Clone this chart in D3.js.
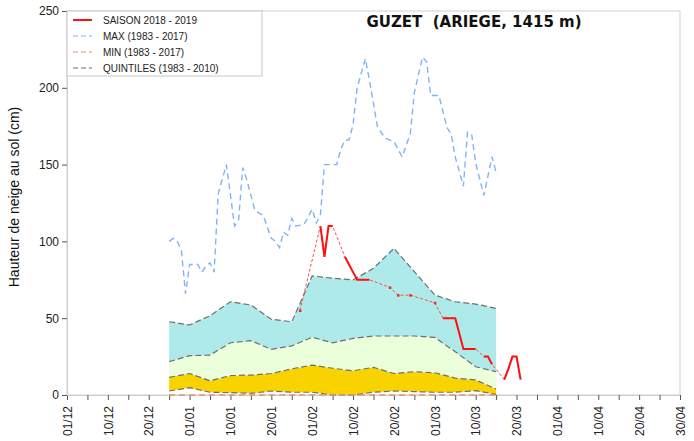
<!DOCTYPE html>
<html lang="fr">
<head>
<meta charset="utf-8">
<script src="https://d3js.org/d3.v7.min.js"></script>
<style>
  body { margin: 0; background: #fff; }
  svg { display: block; font-family: "Liberation Sans", Arial, sans-serif; }
</style>
</head>
<body>
<div id="chart"></div>
<script>
// axe des x : un cran = un jour "decade" (10 crans entre deux etiquettes)
var xLabels = ["01/12", "10/12", "20/12", "01/01", "10/01", "20/01", "01/02", "10/02",
  "20/02", "01/03", "10/03", "20/03", "01/04", "10/04", "20/04", "30/04"];
var yTicks = [0, 50, 100, 150, 200, 250];

// quintiles (1983 - 2010), un point tous les 5 crans
var quintDays = [25, 30, 35, 40, 45, 50, 55, 60, 65, 70, 75, 80, 85, 90, 95, 100, 105];
var q1 = [2.6, 4.8, 1.8, 1.5, 1.1, 2.6, 1.8, 1.8, 0, 0, 1.8, 2.6, 2.2, 1.8, 1.8, 2.8, 0.4];
var q2 = [11.5, 14, 9.3, 12.6, 13, 14, 17, 19.5, 17.4, 15.8, 18, 14, 15.2, 14.5, 11, 9.8, 3.9];
var q3 = [21.7, 25.6, 26, 34, 35.4, 29.7, 32, 37.6, 34, 36.9, 38.4, 38.4, 38.4, 37.5, 28.2, 18.4, 15.2];
var q4 = [47.7, 45.6, 51.6, 60.7, 58.6, 49.3, 47.7, 77.5, 76, 74.9, 82.5, 95.5, 80.3, 65.1, 60.7, 59.2, 56.4];

// min (1983 - 2017)
var minVals = [0, 0, 0, 0, 0, 0, 0, 0, 0, 0, 0, 0, 0, 0, 0, 0, 0];

// max (1983 - 2017)
var maxDays = [25, 26, 27, 28, 29, 30, 32, 33, 34, 35, 36, 37, 39, 41, 42, 43, 44, 46, 48, 50,
  51, 52, 53, 54, 55, 56, 58, 60, 61, 62, 63, 66, 67, 68, 69, 70, 71, 73, 74, 76,
  78, 80, 82, 84, 85, 87, 88, 89, 91, 93, 94, 95, 97, 98, 99, 100, 102, 104, 105];
var maxVals = [100, 102, 100, 94, 66, 85, 85, 80, 84, 86, 80, 131, 150, 110, 114, 148, 140, 120, 117, 102,
  100, 96, 106, 104, 115, 110, 111, 121, 112, 117, 150, 150, 160, 166, 166, 176, 200, 219, 205, 174,
  167, 165, 155, 170, 197, 220, 217, 195, 195, 174, 170, 155, 136, 171, 170, 151, 130, 155, 145];

// saison 2018 - 2019
var seasonDays = [57, 62, 63, 64, 65, 68, 69, 70, 71, 72, 73, 74, 79, 81, 84, 90, 92, 93, 94, 95,
  96, 97, 98, 99, 100, 102, 103, 104, 107, 108, 109, 110, 111];
var seasonVals = [55, 110, 90, 110, 110, 90, 85, 80, 75, 75, 75, 75, 70, 65, 65, 60, 50, 50, 50, 50,
  40, 30, 30, 30, 30, 25, 25, 20, 10, 17, 25, 25, 10];

var width = 694, height = 441;
var margin = { top: 11, right: 14, bottom: 46, left: 67 };

var svg = d3.select('#chart').append('svg')
  .attr('width', width)
  .attr('height', height);

var x = d3.scaleLinear().domain([0, 150]).range([margin.left, width - margin.right]);
var y = d3.scaleLinear().domain([0, 250]).range([height - margin.bottom, margin.top]);

function zip(days, vals) {
  return days.map(function (d, i) { return { d: d, v: vals[i] }; });
}

// bandes des quintiles
var bands = [
  { lo: q1, hi: q2, color: '#f9d300' },
  { lo: q2, hi: q3, color: '#ecffdb' },
  { lo: q3, hi: q4, color: '#aeeaea' }
];
bands.forEach(function (b) {
  var area = d3.area()
    .x(function (d, i) { return x(quintDays[i]); })
    .y0(function (d, i) { return y(b.lo[i]); })
    .y1(function (d, i) { return y(b.hi[i]); });
  svg.append('path').attr('d', area(quintDays)).attr('fill', b.color);
});

// cadre
svg.append('rect')
  .attr('x', x(0)).attr('y', y(250))
  .attr('width', x(150) - x(0)).attr('height', y(0) - y(250))
  .attr('fill', 'none').attr('stroke', '#cfcfcf');

// axes
var xAxis = svg.append('g')
  .attr('transform', 'translate(0,' + y(0) + ')')
  .call(d3.axisBottom(x)
    .tickValues(d3.range(0, 151, 5))
    .tickSize(5)
    .tickFormat(function (d) { return d % 10 === 0 ? xLabels[d / 10] : ''; }));
xAxis.select('.domain').attr('stroke', '#cfcfcf');
xAxis.selectAll('.tick line').attr('stroke', '#555');
xAxis.selectAll('.tick text')
  .attr('transform', 'rotate(-90)')
  .attr('text-anchor', 'end')
  .attr('x', -11)
  .attr('y', 0)
  .attr('dy', '0.35em')
  .attr('font-size', 12)
  .attr('fill', '#222');

var yAxis = svg.append('g')
  .attr('transform', 'translate(' + x(0) + ',0)')
  .call(d3.axisLeft(y).tickValues(yTicks).tickSize(5));
yAxis.select('.domain').attr('stroke', '#cfcfcf');
yAxis.selectAll('.tick line').attr('stroke', '#555');
yAxis.selectAll('.tick text').attr('font-size', 12).attr('fill', '#222');

svg.append('text')
  .attr('transform', 'translate(19,' + 197 + ') rotate(-90)')
  .attr('text-anchor', 'middle')
  .attr('font-size', 14)
  .attr('fill', '#111')
  .text('Hauteur de neige au sol (cm)');

var line = d3.line().x(function (d) { return x(d.d); }).y(function (d) { return y(d.v); });

[q1, q2, q3, q4].forEach(function (q) {
  svg.append('path')
    .attr('d', line(zip(quintDays, q)))
    .attr('fill', 'none')
    .attr('stroke', '#6f6f6f')
    .attr('stroke-width', 1.2)
    .attr('stroke-dasharray', '6,3');
});

// min
svg.append('path')
  .attr('d', line(zip(quintDays, minVals)))
  .attr('fill', 'none')
  .attr('stroke', '#e0957a')
  .attr('stroke-width', 1.4)
  .attr('stroke-dasharray', '6,4');

// max
svg.append('path')
  .attr('d', line(zip(maxDays, maxVals)))
  .attr('fill', 'none')
  .attr('stroke', '#80b4f4')
  .attr('stroke-width', 1.4)
  .attr('stroke-dasharray', '6,4');

// saison : pointilles entre les mesures, trait plein entre jours consecutifs
var season = zip(seasonDays, seasonVals);
svg.append('path')
  .attr('d', line(season))
  .attr('fill', 'none')
  .attr('stroke', '#f25050')
  .attr('stroke-width', 1)
  .attr('stroke-dasharray', '3,2');

var daily = d3.range(seasonDays[0], seasonDays[seasonDays.length - 1] + 1).map(function (d) {
  var i = seasonDays.indexOf(d);
  return { d: d, v: i < 0 ? null : seasonVals[i] };
});
svg.append('path')
  .attr('d', d3.line().defined(function (d) { return d.v !== null; })
    .x(function (d) { return x(d.d); }).y(function (d) { return y(d.v); })(daily))
  .attr('fill', 'none')
  .attr('stroke', '#ff1010')
  .attr('stroke-width', 2);

// mesures isolees
var isolated = season.filter(function (p) {
  return seasonDays.indexOf(p.d - 1) < 0 && seasonDays.indexOf(p.d + 1) < 0;
});
svg.selectAll('.pt')
  .data(isolated)
  .enter().append('rect')
  .attr('class', 'pt')
  .attr('x', function (d) { return x(d.d) - 1; })
  .attr('y', function (d) { return y(d.v) - 1; })
  .attr('width', 2.5).attr('height', 2.5)
  .attr('fill', '#ff2020');

// titre
svg.append('text')
  .attr('x', 474).attr('y', 27)
  .attr('text-anchor', 'middle')
  .attr('font-family', '"DejaVu Sans", sans-serif')
  .attr('font-weight', 'bold')
  .attr('font-size', 15)
  .attr('fill', '#111')
  .style('white-space', 'pre')
  .text('GUZET  (ARIEGE, 1415 m)');

// legende
var legendItems = [
  { label: 'SAISON 2018 - 2019', color: '#ff1010', dash: null, w: 2 },
  { label: 'MAX (1983 - 2017)', color: '#80b4f4', dash: '5,3', w: 1.2 },
  { label: 'MIN (1983 - 2017)', color: '#e0957a', dash: '5,3', w: 1.2 },
  { label: 'QUINTILES (1983 - 2010)', color: '#6f6f6f', dash: '5,3', w: 1.2 }
];
svg.append('rect')
  .attr('x', x(0)).attr('y', y(250))
  .attr('width', 195).attr('height', 65)
  .attr('fill', '#fff').attr('stroke', '#c8c8c8');
var legend = svg.selectAll('.legend')
  .data(legendItems)
  .enter().append('g')
  .attr('class', 'legend')
  .attr('transform', function (d, i) { return 'translate(' + (x(0) + 6) + ',' + (20 + i * 16) + ')'; });
legend.append('line')
  .attr('x1', 0).attr('x2', 19)
  .attr('stroke', function (d) { return d.color; })
  .attr('stroke-width', function (d) { return d.w; })
  .attr('stroke-dasharray', function (d) { return d.dash; });
legend.append('text')
  .attr('x', 30).attr('dy', '0.35em')
  .attr('font-size', 10)
  .attr('fill', '#222')
  .text(function (d) { return d.label; });
</script>
</body>
</html>
